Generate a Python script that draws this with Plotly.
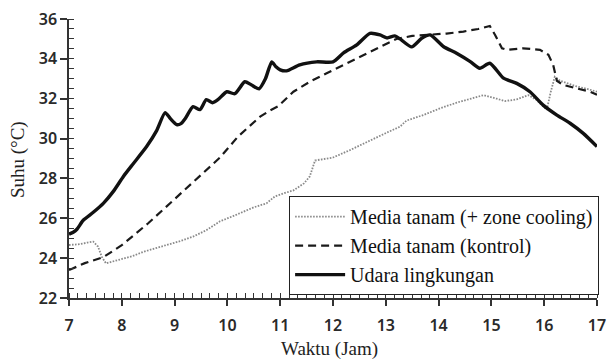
import plotly.graph_objects as go

# Media tanam (+ zone cooling)
x_zone = [7.0, 7.2, 7.35, 7.46, 7.55, 7.62, 7.7, 7.85, 7.97, 8.2, 8.41, 8.6, 8.85, 9.1, 9.35, 9.6, 9.86,
          10.1, 10.3, 10.5, 10.74, 10.9, 11.06, 11.25, 11.45, 11.56, 11.66, 11.8, 12.0, 12.32, 12.64,
          13.02, 13.27, 13.39, 13.71, 14.03, 14.34, 14.66, 14.85, 15.1, 15.26, 15.48, 15.7, 15.85,
          15.95, 16.05, 16.12, 16.2, 16.3, 16.45, 16.61, 16.8, 17.0]
y_zone = [24.66, 24.7, 24.78, 24.83, 24.58, 24.07, 23.74, 23.85, 23.9, 24.1, 24.32, 24.45, 24.66, 24.85,
          25.08, 25.4, 25.85, 26.1, 26.33, 26.55, 26.75, 27.1, 27.25, 27.4, 27.75, 28.1, 28.9, 28.95,
          29.05, 29.42, 29.84, 30.3, 30.6, 30.9, 31.18, 31.52, 31.8, 32.02, 32.18, 32.0, 31.88, 31.97,
          32.18, 31.95, 31.7, 31.45, 32.3, 33.1, 32.9, 32.75, 32.62, 32.5, 32.35]

# Media tanam (kontrol)
x_kontrol = [7.0, 7.3, 7.65, 8.0, 8.5, 9.0, 9.5, 9.86, 10.2, 10.62, 10.8, 10.96, 11.25, 11.56, 11.88,
             12.2, 12.51, 12.83, 13.2, 13.5, 13.84, 14.15, 14.47, 14.75, 14.97, 15.07, 15.2, 15.3,
             15.6, 15.92, 16.08, 16.17, 16.24, 16.36, 16.61, 16.87, 17.0]
y_kontrol = [23.4, 23.75, 24.05, 24.65, 25.75, 26.95, 28.15, 29.05, 30.1, 31.1, 31.4, 31.62, 32.35,
             32.85, 33.28, 33.69, 34.11, 34.53, 35.0, 35.15, 35.2, 35.27, 35.37, 35.5, 35.65, 35.2,
             34.53, 34.45, 34.53, 34.45, 34.2, 33.7, 32.9, 32.69, 32.52, 32.35, 32.2]

# Udara lingkungan
x_udara = [7.0, 7.08, 7.15, 7.27, 7.46, 7.65, 7.84, 8.03, 8.22, 8.47, 8.66, 8.82, 8.92, 9.04, 9.12,
           9.2, 9.35, 9.48, 9.6, 9.72, 9.82, 9.99, 10.14, 10.33, 10.45, 10.6, 10.72, 10.84, 10.92,
           11.0, 11.12, 11.37, 11.69, 12.0, 12.2, 12.45, 12.7, 12.89, 13.02, 13.17, 13.27, 13.49,
           13.68, 13.84, 14.09, 14.34, 14.6, 14.78, 14.97, 15.23, 15.48, 15.73, 15.98, 16.24, 16.49,
           16.74, 17.0]
y_udara = [25.2, 25.3, 25.45, 25.9, 26.3, 26.75, 27.35, 28.1, 28.75, 29.6, 30.4, 31.3, 31.0, 30.7,
           30.75, 31.0, 31.6, 31.45, 31.95, 31.8, 31.95, 32.35, 32.25, 32.85, 32.7, 32.5, 33.0, 33.85,
           33.6, 33.45, 33.4, 33.7, 33.85, 33.85, 34.3, 34.7, 35.28, 35.2, 35.05, 35.15, 35.0, 34.6,
           35.03, 35.2, 34.62, 34.28, 33.86, 33.53, 33.78, 33.03, 32.77, 32.35, 31.68, 31.18, 30.77,
           30.26, 29.6]

names = ["Media tanam (+ zone cooling)", "Media tanam (kontrol)", "Udara lingkungan"]
x_title = "Waktu (Jam)"
y_title = "Suhu (°C)"

fig = go.Figure()
fig.add_trace(go.Scatter(x=x_zone, y=y_zone, mode="lines", name=names[0],
                         line=dict(color="#8a8a8a", width=1.8, dash="1.6px,1.4px")))
fig.add_trace(go.Scatter(x=x_kontrol, y=y_kontrol, mode="lines", name=names[1],
                         line=dict(color="#1a1a1a", width=2.2, dash="8px,5px")))
fig.add_trace(go.Scatter(x=x_udara, y=y_udara, mode="lines", name=names[2],
                         line=dict(color="#111111", width=3.4, shape="spline", smoothing=0.6)))

tickfont = dict(family="Noto Sans", size=16, color="#2a2a2a", weight=600)
serif = "Liberation Serif"

fig.update_layout(
    width=608, height=361,
    margin=dict(l=69, r=11, t=19, b=63, autoexpand=False),
    paper_bgcolor="white", plot_bgcolor="white",
    showlegend=True,
    legend=dict(x=1.004, xanchor="right", y=0.365, yanchor="top",
                bgcolor="white", bordercolor="#222", borderwidth=1,
                font=dict(family=serif, size=20, color="#111"),
                itemwidth=50, tracegroupgap=0),
    xaxis=dict(range=[7, 17], dtick=1, tick0=7, showgrid=False, zeroline=False, automargin=False,
               showline=True, linecolor="#333", linewidth=1.5, ticklabeloverflow="allow",
               ticks="outside", ticklen=6, tickwidth=1.5, tickcolor="#333",
               minor=dict(ticks="inside", dtick=1/6, ticklen=5, tickwidth=1.2, tickcolor="#333"),
               tickfont=tickfont, ticklabelstandoff=6),
    yaxis=dict(range=[22, 36], dtick=2, tick0=22, showgrid=False, zeroline=False, automargin=False,
               showline=True, linecolor="#333", linewidth=1.5, ticklabeloverflow="allow",
               ticks="outside", ticklen=7, tickwidth=1.5, tickcolor="#333",
               minor=dict(ticks="inside", dtick=0.5, ticklen=5, tickwidth=1.2, tickcolor="#333"),
               tickfont=tickfont, ticklabelstandoff=0),
    xaxis2=dict(range=[7, 17], dtick=1, tick0=7, overlaying="x", anchor="y", side="bottom",
                showgrid=False, zeroline=False, showline=False, showticklabels=False, automargin=False,
                ticks="inside", ticklen=5, tickwidth=1.5, tickcolor="#333"),
    yaxis2=dict(range=[22, 36], dtick=2, tick0=22, overlaying="y", anchor="x", side="left",
                showgrid=False, zeroline=False, showline=False, showticklabels=False, automargin=False,
                ticks="inside", ticklen=5, tickwidth=1.5, tickcolor="#333"),
    annotations=[
        dict(text=x_title, xref="paper", yref="paper", x=0.494, y=-0.183,
             xanchor="center", yanchor="middle", showarrow=False,
             font=dict(family=serif, size=19, color="#222")),
        dict(text=y_title, xref="paper", yref="paper", x=-0.0966, y=0.498,
             xanchor="center", yanchor="middle", showarrow=False, textangle=-90,
             font=dict(family=serif, size=19, color="#222")),
    ],
)

fig.write_html("out.html", config={"displayModeBar": False},
               post_script="document.body.style.margin='0';document.body.style.overflow='hidden';")
